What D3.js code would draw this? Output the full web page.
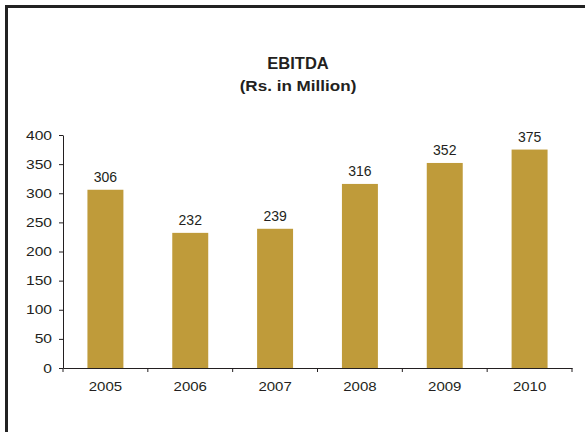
<!DOCTYPE html>
<html>
<head>
<meta charset="utf-8">
<script src="https://cdn.jsdelivr.net/npm/d3@7"></script>
<style>
  html, body { margin: 0; padding: 0; background: #fff; }
  svg { display: block; font-family: "Liberation Sans", Arial, Helvetica, sans-serif; }
</style>
</head>
<body>
<svg id="chart" width="585" height="432"></svg>
<script>
// EBITDA by year, Rs. in Million
const years = ["2005", "2006", "2007", "2008", "2009", "2010"];
const ebitda = [306, 232, 239, 316, 352, 375];
const yTicks = [0, 50, 100, 150, 200, 250, 300, 350, 400];
const titleLines = ["EBITDA", "(Rs. in Million)"];

const W = 585, H = 432;
const plot = { left: 63, right: 572, top: 135, bottom: 368 };
const barColor = "#bf9b3a";
const ink = "#231f20";
const fontStack = "'Liberation Sans', Arial, Helvetica, sans-serif";

const svg = d3.select("#chart");

// frame: top and left edges only
svg.append("path")
  .attr("d", `M6.5,${H} L6.5,6.5 L${W},6.5`)
  .attr("fill", "none")
  .attr("stroke", "#222")
  .attr("stroke-width", 3);

// titles (the unit line is set slightly wide)
svg.append("text")
  .attr("transform", "translate(298,69)")
  .attr("text-anchor", "middle")
  .attr("font-size", 16.5).attr("font-weight", "bold")
  .attr("fill", ink)
  .text(titleLines[0]);
svg.append("text")
  .attr("transform", "translate(298,91) scale(1.22,1)")
  .attr("text-anchor", "middle")
  .attr("font-size", 14).attr("font-weight", "bold")
  .attr("fill", ink)
  .text(titleLines[1]);

const x = d3.scaleBand()
  .domain(years)
  .range([plot.left, plot.right])
  .paddingInner(0.576)
  .paddingOuter(0.288);

const y = d3.scaleLinear()
  .domain([0, 400])
  .range([plot.bottom, plot.top]);

// bars
svg.append("g").selectAll("rect")
  .data(years)
  .join("rect")
  .attr("x", d => x(d))
  .attr("width", x.bandwidth())
  .attr("y", (d, i) => y(ebitda[i]))
  .attr("height", (d, i) => y(0) - y(ebitda[i]) + 1)
  .attr("fill", barColor);

// value labels
svg.append("g").selectAll("text")
  .data(years)
  .join("text")
  .attr("x", d => x(d) + x.bandwidth() / 2)
  .attr("y", (d, i) => y(ebitda[i]) - 8)
  .attr("text-anchor", "middle")
  .attr("font-size", 14)
  .attr("fill", ink)
  .text((d, i) => ebitda[i]);

// y axis
const yAxis = svg.append("g")
  .attr("transform", `translate(${plot.left},0)`)
  .call(d3.axisLeft(y).tickValues(yTicks).tickSize(4).tickPadding(8).tickSizeOuter(0));
yAxis.select(".domain").attr("stroke", ink);
yAxis.selectAll(".tick line").attr("stroke", ink);
yAxis.selectAll(".tick text")
  .attr("x", 0)
  .attr("transform", "translate(-11,0) scale(1.25,1)")
  .attr("font-size", 12.5)
  .attr("font-family", fontStack)
  .attr("fill", ink);

// x axis: labels centred under bars, ticks on category boundaries
const xAxis = svg.append("g")
  .attr("transform", `translate(0,${plot.bottom})`)
  .call(d3.axisBottom(x).tickSize(0).tickPadding(0).tickSizeOuter(0));
xAxis.select(".domain").attr("stroke", ink);
xAxis.selectAll(".tick text")
  .attr("y", 0).attr("dy", 0)
  .attr("transform", "translate(0,23) scale(1.2,1)")
  .attr("font-size", 12.5)
  .attr("font-family", fontStack)
  .attr("fill", ink);

const bounds = d3.range(years.length + 1).map(i => plot.left + i * x.step());
xAxis.append("g").selectAll("line")
  .data(bounds)
  .join("line")
  .attr("x1", d => d).attr("x2", d => d)
  .attr("y1", 0).attr("y2", 4)
  .attr("stroke", ink);
</script>
</body>
</html>
